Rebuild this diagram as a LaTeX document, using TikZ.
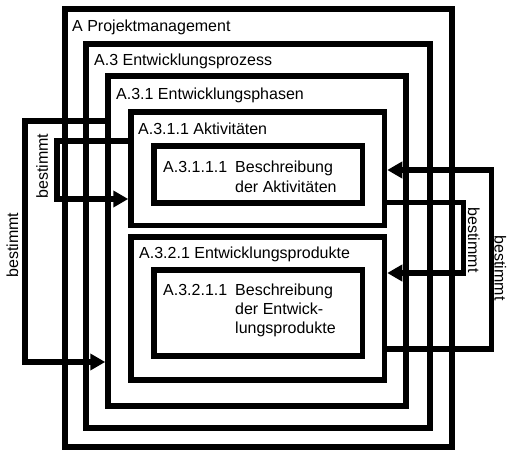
\documentclass[tikz,border=0pt]{standalone}
\usepackage{fontspec}
\setmainfont{Liberation Sans}
\usetikzlibrary{arrows.meta,fit}

\tikzset{
  frame/.style={draw=black, line width=5.5pt, inner sep=0pt, fill=none},
  caption/.style={anchor=base west, inner sep=0pt, font=\fontsize{16}{19}\selectfont},
  rel/.style={inner sep=0pt, font=\fontsize{16}{19}\selectfont},
  conn/.style={draw=black, line width=5.5pt, line join=miter,
    -{Triangle[length=15pt,width=16pt]}}
}

\begin{document}
\begin{tikzpicture}[x=1pt,y=-1pt]
  \path[use as bounding box, fill=white] (0,0) rectangle (507,450);

  % nested frames
  \node[frame, fit={(65,9) (452,447)}]      (A)     {};
  \node[frame, fit={(86,44) (430,428)}]     (A3)    {};
  \node[frame, fit={(108,76) (406,406)}]    (A31)   {};
  \node[frame, fit={(131,112) (384.5,225.5)}] (A311)  {};
  \node[frame, fit={(154,146) (362.5,203)}] (A3111) {};
  \node[frame, fit={(131,237) (384.5,380)}] (A321)  {};
  \node[frame, fit={(154,270) (362.5,356)}] (A3211) {};

  % frame captions
  \node[caption] (tA)    at (72,31)  {A Projektmanagement};
  \node[caption] (tA3)   at (94,65)  {A.3 Entwicklungsprozess};
  \node[caption] (tA31)  at (116,99) {A.3.1 Entwicklungsphasen};
  \node[caption] (tA311) at (138,134) {A.3.1.1 Aktivitäten};
  \node[caption] (tA321) at (139,258) {A.3.2.1 Entwicklungsprodukte};

  \node[caption] (nA3111) at (163,172) {A.3.1.1.1};
  \node[caption] (dA3111a) at (235,172) {Beschreibung};
  \node[caption] (dA3111b) at (235,192) {der Aktivitäten};

  \node[caption] (nA3211) at (163,295) {A.3.2.1.1};
  \node[caption] (dA3211a) at (235,295) {Beschreibung};
  \node[caption] (dA3211b) at (235,314) {der Entwick-};
  \node[caption] (dA3211c) at (235,333) {lungsprodukte};

  % "bestimmt" relations
  \draw[conn] (A31.west |- 0,121) -- (25,121) |- (A31.west |- 0,362);
  \draw[conn] (A311.west |- 0,141) -- (57,141) |- (A311.west |- 0,199);
  \draw[conn] (A311.east |- 0,202.5) -- (463.5,202.5) |- (A321.east |- 0,273);
  \draw[conn] (A321.east |- 0,349) -- (491.5,349) |- (A311.east |- 0,170);

  \node[rel, rotate=90, anchor=base]  (b1) at (18,245)  {bestimmt};
  \node[rel, rotate=90, anchor=base]  (b2) at (48,166)  {bestimmt};
  \node[rel, rotate=-90, anchor=base] (b3) at (468,240) {bestimmt};
  \node[rel, rotate=-90, anchor=base] (b4) at (494.5,268) {bestimmt};
\end{tikzpicture}
\end{document}
